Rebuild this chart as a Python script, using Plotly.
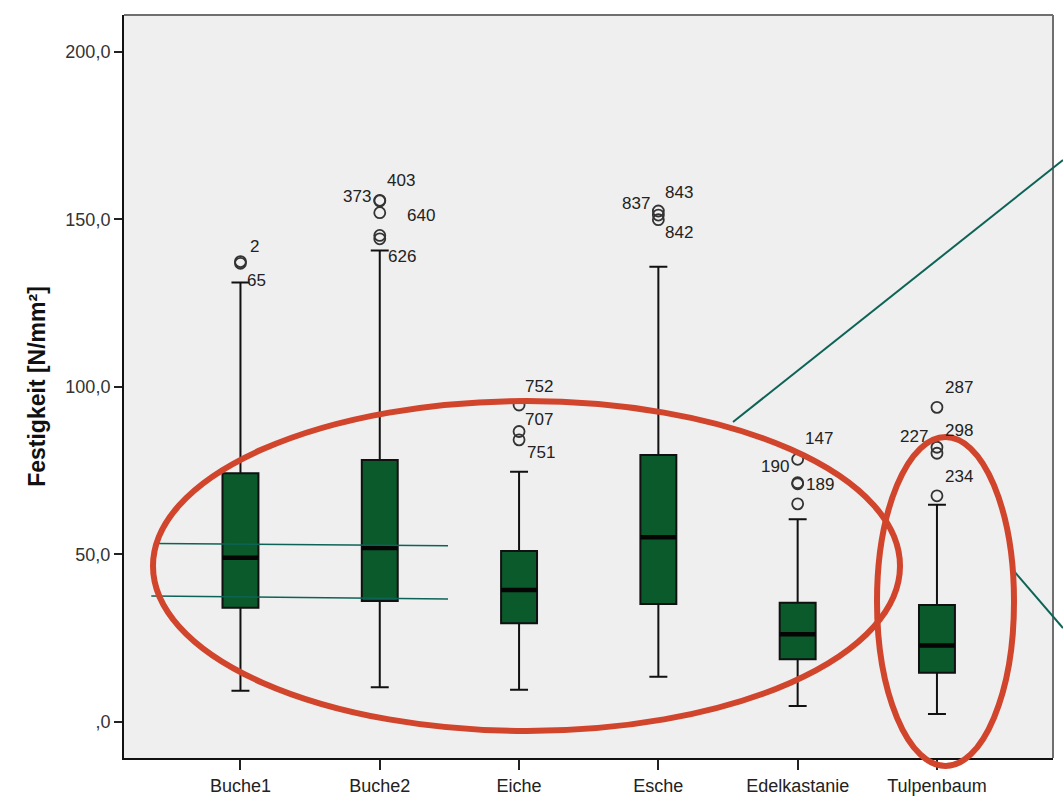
import plotly.graph_objects as go

# Festigkeit je Holzart (Boxplot-Kennwerte, N/mm²)
categories = ["Buche1", "Buche2", "Eiche", "Esche", "Edelkastanie", "Tulpenbaum"]
q1 = [34.1, 36.1, 29.5, 35.2, 18.7, 14.7]
median = [49.0, 51.9, 39.4, 55.1, 26.2, 22.8]
q3 = [74.2, 78.2, 51.0, 79.7, 35.6, 34.9]
lower_whisker = [9.3, 10.4, 9.6, 13.5, 4.8, 2.4]
upper_whisker = [131.2, 140.7, 74.7, 135.9, 60.5, 64.8]

# Ausreißer: Gruppe (Index), Wert, Fallnummer ("" = ohne Beschriftung)
outlier_group = [0, 0, 1, 1, 1, 1, 1, 2, 2, 2, 3, 3, 3, 4, 4, 4, 4, 5, 5, 5, 5]
outlier_value = [137.4, 136.9, 155.7, 155.5, 152.0, 145.2, 144.2, 94.6, 86.7, 84.2,
                 152.5, 151.3, 149.9, 78.4, 71.4, 71.1, 65.1, 93.9, 82.0, 80.2, 67.5]
outlier_case = ["2", "65", "373", "403", "640", "", "626", "752", "707", "751",
                "837", "843", "842", "147", "190", "189", "", "287", "227", "298", "234"]

y_tickvals = [0, 50, 100, 150, 200]
y_ticktext = [",0", "50,0", "100,0", "150,0", "200,0"]

# Lage der Fallnummern relativ zum Punkt: (Ausrichtung, dx px, dy px)
label_place = [("left", 8, 15), ("left", 5, -17), ("right", -7, 4), ("left", 5, 20),
               ("left", 25, -3), None, ("left", 6, -18), ("left", 4, 19), ("left", 4, 12),
               ("left", 6, -13), ("right", -6, 8), ("left", 5, 23), ("left", 5, -13),
               ("left", 5, 21), ("right", -7, 16), ("left", 6, -1), None,
               ("left", 6, 20), ("right", -7, 11), ("left", 6, 23), ("left", 6, 19)]

FONT = "Arial, Liberation Sans, sans-serif"
BOX_FILL = "#0b5a2c"
BOX_W = 0.258
RED = "#d1452c"
TEAL = "#0d6356"

W, H = 1063, 801
L, R, T, B = 124, 10, 15, 43

fig = go.Figure()

for i, name in enumerate(categories):
    fig.add_trace(go.Box(
        x=[i], q1=[q1[i]], median=[median[i]], q3=[q3[i]],
        lowerfence=[lower_whisker[i]], upperfence=[upper_whisker[i]],
        width=BOX_W, whiskerwidth=0.5, boxpoints=False,
        fillcolor=BOX_FILL, line=dict(color="#111111", width=2),
        name=name, showlegend=False, hoverinfo="skip",
    ))

# kräftige Medianlinien
mx, my = [], []
for i, m in enumerate(median):
    mx += [i - BOX_W / 2, i + BOX_W / 2, None]
    my += [m, m, None]
fig.add_trace(go.Scatter(x=mx, y=my, mode="lines", line=dict(color="#050505", width=4.5),
                         showlegend=False, hoverinfo="skip"))

# Ausreißer als offene Kreise
fig.add_trace(go.Scatter(
    x=outlier_group, y=outlier_value, mode="markers",
    marker=dict(symbol="circle-open", size=11, color="#333333", line=dict(width=1.8)),
    showlegend=False, hoverinfo="skip",
))

for g, v, case, place in zip(outlier_group, outlier_value, outlier_case, label_place):
    if not case or place is None:
        continue
    anchor, dx, dy = place
    fig.add_annotation(x=g, y=v, xref="x", yref="y", text=case, showarrow=False,
                       xanchor=anchor, yanchor="middle", xshift=dx, yshift=dy,
                       font=dict(family=FONT, size=17, color="#222222"))


def px_x(p):
    return (p - L) / (W - L - R)


def px_y(p):
    return (H - B - p) / (H - T - B)


# Rahmen oben/rechts
fig.add_shape(type="line", xref="paper", yref="paper", x0=0, x1=1, y0=1, y1=1,
              line=dict(color="#6f6f6f", width=2))
fig.add_shape(type="line", xref="paper", yref="paper", x0=1, x1=1, y0=0, y1=1,
              line=dict(color="#6f6f6f", width=2))

# Hilfslinien bei Buche1/Buche2
fig.add_shape(type="line", xref="x", yref="y", x0=-0.60, x1=1.49, y0=53.3, y1=52.6,
              line=dict(color=TEAL, width=1.5))
fig.add_shape(type="line", xref="x", yref="y", x0=-0.64, x1=1.49, y0=37.6, y1=36.7,
              line=dict(color=TEAL, width=1.5))

# Verbindungslinien nach rechts
fig.add_shape(type="line", xref="paper", yref="paper",
              x0=px_x(733), y0=px_y(422), x1=px_x(1063), y1=px_y(160),
              line=dict(color=TEAL, width=2))
fig.add_shape(type="line", xref="paper", yref="paper",
              x0=px_x(1013), y0=px_y(570), x1=px_x(1063), y1=px_y(628),
              line=dict(color=TEAL, width=2))

# Markierungsellipsen
fig.add_shape(type="circle", xref="paper", yref="paper",
              x0=px_x(153), x1=px_x(900), y0=px_y(731), y1=px_y(401),
              line=dict(color=RED, width=6))
fig.add_shape(type="circle", xref="paper", yref="paper",
              x0=px_x(877), x1=px_x(1014), y0=px_y(766), y1=px_y(437),
              line=dict(color=RED, width=6))

fig.update_layout(
    width=W, height=H,
    margin=dict(l=L, r=R, t=T, b=B, autoexpand=False),
    paper_bgcolor="white", plot_bgcolor="#efefef",
    font=dict(family=FONT, color="#222222"),
    showlegend=False,
)
fig.update_xaxes(
    range=[-0.836, 5.833], tickvals=list(range(len(categories))), ticktext=categories,
    showgrid=False, zeroline=False, showline=True, linecolor="#111111", linewidth=2,
    ticks="outside", ticklen=10, tickwidth=2, tickcolor="#222222",
    tickfont=dict(family=FONT, size=18, color="#222222"),
)
fig.update_yaxes(
    range=[-10.75, 211.0], tickvals=y_tickvals, ticktext=y_ticktext,
    showgrid=False, zeroline=False, showline=True, linecolor="#111111", linewidth=2,
    ticks="outside", ticklen=8, tickwidth=2, tickcolor="#222222",
    tickfont=dict(family=FONT, size=18, color="#333333"),
    title=dict(text="<b>Festigkeit [N/mm²]</b>", standoff=13,
               font=dict(family=FONT, size=23, color="#111111")),
)

fig.write_html("out.html")
